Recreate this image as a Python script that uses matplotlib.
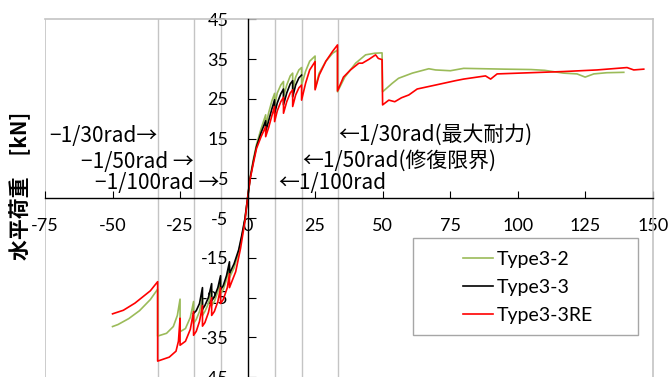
import matplotlib
matplotlib.use("Agg")
import matplotlib.pyplot as plt
from matplotlib.patches import Rectangle

# Story drift (mm) and horizontal load (kN) for each specimen.
# Negative branch listed from the origin outward, positive branch likewise.
type32_neg_x = [0, -1, -2.2, -3.3, -5, -6.7, -6.7, -7.8, -9, -10, -10, -11, -12.3, -13.3, -13.3,
                -14.5, -15.8, -16.7, -16.7, -17.8, -19, -20, -20, -21.2, -23, -25, -25, -26,
                -27.5, -30, -33.3, -33.3, -36, -40, -44, -48, -50]
type32_neg_y = [0, -5.5, -10, -13.5, -17.5, -20, -17, -20.5, -23, -24, -20.5, -23.5, -26, -27, -23,
                -26.5, -28.5, -29.5, -25, -28.5, -30.5, -31.5, -26, -30, -32.8, -33.6, -25.4, -29.5,
                -32.3, -34, -34.7, -22.9, -25.5, -28.3, -30.3, -31.8, -32.3]
type32_pos_x = [0, 1, 2.2, 3.3, 5, 6.7, 6.7, 7.8, 9, 10, 10, 11, 12.3, 13.3, 13.3, 14.5, 15.8,
                16.7, 16.7, 17.8, 19, 20, 20, 21.5, 23, 25, 25, 26.5, 29, 31.5, 33.3, 33.3, 36,
                40, 43.7, 47, 49.8, 50, 53.5, 55.9, 61, 67.1, 69.6, 75.1, 80, 95, 105, 110, 117,
                122, 125, 128.2, 133, 139.3]
type32_pos_y = [0, 5.5, 10, 13.5, 17.5, 21, 18, 21.5, 24.5, 26.4, 23.3, 26.5, 28.5, 29.4, 25.5,
                28.5, 30.8, 31.5, 27.2, 30.5, 32.3, 32.9, 28.5, 32, 34.5, 35.8, 27.7, 31.5, 34.5,
                36.5, 37.3, 26.8, 30.5, 34, 36.1, 36.5, 36.6, 26.8, 28.9, 30.2, 31.5, 32.6, 32.3,
                32.1, 32.7, 32.5, 32.4, 32.2, 31.5, 31.3, 30.5, 31.3, 31.6, 31.7]

type33_neg_x = [0, -1, -2.2, -3.3, -5, -6.7, -6.7, -7.8, -9, -10, -10, -11, -12.3, -13.3, -13.3,
                -14.5, -15.8, -16.7, -16.7, -17.8, -19, -20]
type33_neg_y = [0, -5.2, -9.5, -13, -16.5, -19, -16, -19.5, -22, -23, -19.5, -22.5, -24.8, -25.8,
                -21.5, -25, -27, -28, -22.5, -26.5, -28.3, -29]
type33_pos_x = [0, 1, 2.2, 3.3, 5, 6.7, 6.7, 7.8, 9, 10, 10, 11, 12.3, 13.3, 13.3, 14.5, 15.8,
                16.7, 16.7, 17.8, 19, 20]
type33_pos_y = [0, 5.2, 9.5, 13, 16.5, 19.5, 16.8, 19.5, 22.5, 24.8, 21.3, 24, 26.3, 27.5, 23.5,
                26.5, 28.8, 29.6, 25.5, 28.5, 30.3, 31]

type33re_neg_x = [0, -1, -2.6, -4.4, -6.7, -6.7, -7.5, -9, -10, -10, -11, -12.3, -13.3, -13.3,
                  -14.5, -15.8, -16.7, -16.7, -17.8, -19, -20, -20, -21.2, -23, -25, -25, -25.6,
                  -26.5, -29, -33.3, -33.3, -36, -41.7, -46, -50]
type33re_neg_y = [0, -5.9, -12.6, -18.5, -22.5, -19, -22.5, -25.5, -26.5, -22.5, -26, -28.5, -29.5,
                  -25, -28.8, -31.3, -32.2, -27, -31, -33.5, -34.5, -28.5, -33, -36, -37, -30.2,
                  -36, -38.5, -40, -41, -21, -23.3, -26.4, -28.2, -29.1]
type33re_pos_x = [0, 1, 2.2, 3.3, 5, 6.7, 6.7, 7.8, 9, 10, 10, 11, 12.3, 13.3, 13.3, 14.5, 15.8,
                  16.7, 16.7, 17.8, 19, 20, 20, 21.5, 23, 25, 25, 26.5, 29, 31.5, 33.3, 33.3,
                  35.5, 38.1, 41.2, 42.5, 45, 47.4, 48.4, 49.8, 50, 52.3, 54.5, 57, 59.7, 62.8,
                  69.6, 77, 80, 88.1, 90, 92.4, 104.7, 117.1, 129.4, 140.5, 143, 146.7]
type33re_pos_y = [0, 5, 9, 12.5, 15.5, 18, 15.5, 17.8, 20.8, 23.1, 19.3, 22, 24.3, 25.4, 21.4,
                  24.3, 26.5, 27.3, 23.1, 26, 27.8, 28.5, 24.7, 29, 32.3, 34.4, 27.3, 31, 34.5,
                  37, 38.6, 27.0, 30.5, 32.3, 34, 34, 35, 36.1, 35.2, 34.9, 23.5, 24.7, 24.3,
                  25.3, 26, 27.5, 28.5, 29.6, 30.0, 30.8, 30.0, 31.3, 31.6, 31.9, 32.3, 32.9,
                  32.3, 32.5]

series_labels = ["Type3-2", "Type3-3", "Type3-3RE"]
series_colors = ["#9BBB59", "#000000", "#FF0000"]

drift_marks = [-100 / 3, -20, -10, 10, 20, 100 / 3]
x_ticks = [-75, -50, -25, 0, 25, 50, 75, 100, 125, 150]
y_ticks = [-45, -35, -25, -15, -5, 5, 15, 25, 35, 45]

notes_left = [("−1/30rad→", -100 / 3, 15.7), ("−1/50rad →", -20, 9.1), ("−1/100rad →", -10.6, 3.9)]
notes_right = [("←1/100rad", 11.3, 3.9), ("←1/50rad(修復限界)", 20.4, 9.4),
               ("←1/30rad(最大耐力)", 33.4, 16.0)]

cjk = ["Noto Sans CJK JP", "DejaVu Sans"]
plt.rcParams["font.family"] = ["Lato", "Noto Sans CJK JP", "DejaVu Sans"]

fig = plt.figure(figsize=(6.69, 3.77), dpi=100)
ax = fig.add_axes([0.0673, 0.0, 0.9083, 0.9483])
ax.set_xlim(-75, 150)
ax.set_ylim(-45, 45)

grey = "#C4C4C4"
for xv in drift_marks:
    ax.axvline(xv, color=grey, lw=1.0, zorder=1)
ax.axvline(-75, color=grey, lw=1.2, zorder=1)

series = [
    (type32_neg_x, type32_neg_y, type32_pos_x, type32_pos_y),
    (type33_neg_x, type33_neg_y, type33_pos_x, type33_pos_y),
    (type33re_neg_x, type33re_neg_y, type33re_pos_x, type33re_pos_y),
]
handles = []
for (nx, ny, px, py), lab, col in zip(series, series_labels, series_colors):
    xs = nx[::-1] + px[1:]
    ys = ny[::-1] + py[1:]
    h, = ax.plot(xs, ys, color=col, lw=1.2, label=lab, zorder=3)
    handles.append(h)

# axes through the origin
ax.spines["left"].set_position(("data", 0))
ax.spines["bottom"].set_position(("data", 0))
ax.spines["left"].set_color("black")
ax.spines["bottom"].set_color("black")
ax.spines["left"].set_linewidth(1.0)
ax.spines["bottom"].set_linewidth(1.0)
ax.spines["left"].set_zorder(4)
ax.spines["bottom"].set_zorder(4)
for s in ("top", "right"):
    ax.spines[s].set_color(grey)
    ax.spines[s].set_linewidth(1.2)

ax.set_xticks(x_ticks)
ax.set_yticks(y_ticks)
ax.set_xticklabels([str(v) for v in x_ticks])
ax.set_yticklabels([str(v) for v in y_ticks])
ax.tick_params(axis="x", direction="in", length=5.4, width=0.8, pad=14.2, labelsize=13)
ax.tick_params(axis="y", direction="in", length=5.4, width=0.8, pad=13.7, labelsize=13)

for txt, xv, yv in notes_left:
    ax.text(xv, yv, txt, ha="right", va="center", fontsize=15, family=cjk, zorder=5)
for txt, xv, yv in notes_right:
    ax.text(xv, yv, txt, ha="left", va="center", fontsize=15, family=cjk, zorder=5)

fig.text(0.030, 1 - 186 / 377, "水平荷重　[kN]", rotation=90, ha="center", va="center",
         fontsize=15, fontweight="bold", family=cjk)

# legend box
ax.add_patch(Rectangle((0.6056, 0.1175), 0.3702, 0.2713, transform=ax.transAxes,
                       facecolor="white", edgecolor="#A6A6A6", lw=1.0, zorder=6))
leg = ax.legend(handles=handles, loc="upper left", bbox_to_anchor=(0.6878, 0.352),
                frameon=False, fontsize=14, handlelength=1.54, handletextpad=0.2,
                labelspacing=0.55, borderpad=0, borderaxespad=0)
leg.set_zorder(7)

fig.savefig("out.png", dpi=100)
